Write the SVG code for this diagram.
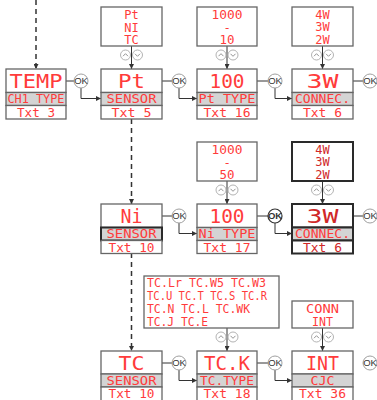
<svg xmlns="http://www.w3.org/2000/svg" width="377" height="400" viewBox="0 0 377 400">
<style>
.bg{fill:#fff}
.box{fill:#fff;stroke:#666;stroke-width:1.3}
.boxb{fill:#fff;stroke:#2a2a2a;stroke-width:2}
.gray{fill:#d4d4d4;stroke:#666;stroke-width:1.3}
.grayb{fill:#d4d4d4;stroke:#2a2a2a;stroke-width:2}
.t{font-family:"DejaVu Sans Mono","Liberation Mono",monospace;fill:#ff3b3b;text-anchor:middle}
.dk{fill:#d02828}
.big{font-size:20px}
.mid{font-size:12.5px}
.sm{font-size:12.5px}
.opt{font-size:12px}
.lst{font-family:"DejaVu Sans Mono","Liberation Mono",monospace;fill:#ff3b3b;font-size:11.5px}
.okc{fill:#fff;stroke:#a0a0a0;stroke-width:1}
.okcb{fill:#fff;stroke:#333;stroke-width:1.2}
.okt{font-family:"Liberation Sans",Arial,sans-serif;font-size:9.5px;fill:#333;text-anchor:middle}
.udc{fill:#fff;stroke:#aaa;stroke-width:0.9}
.chev{fill:none;stroke:#888;stroke-width:0.9}
.ln{fill:none;stroke:#333;stroke-width:1}
.dash{fill:none;stroke:#333;stroke-width:1.5;stroke-dasharray:5 4}
</style>
<defs>
<marker id="ah" viewBox="0 0 6 6" refX="6" refY="3" markerWidth="5" markerHeight="5" markerUnits="userSpaceOnUse" orient="auto">
<path d="M0,0 L6,3 L0,6 z" fill="#333"/>
</marker>
<g id="ud">
<circle cx="-6" cy="0" r="5" class="udc"/>
<circle cx="6" cy="0" r="5" class="udc"/>
<path d="M-8.5,1.2 L-6,-1.3 L-3.5,1.2" class="chev"/>
<path d="M3.5,-1.2 L6,1.3 L8.5,-1.2" class="chev"/>
</g>
</defs>
<rect width="377" height="400" class="bg"/>

<g id="connectors">
<line x1="36" y1="0" x2="36" y2="69" class="dash" marker-end="url(#ah)"/>
<line x1="131.5" y1="119" x2="131.5" y2="204" class="dash" marker-end="url(#ah)"/>
<line x1="131.5" y1="253" x2="131.5" y2="351" class="dash" marker-end="url(#ah)"/>
<line x1="66" y1="81" x2="74" y2="81" class="ln"/>
<polyline points="81,88 81,98.5 101,98.5" class="ln" marker-end="url(#ah)"/>
<line x1="162" y1="81" x2="172" y2="81" class="ln"/>
<polyline points="179,88 179,98.5 197,98.5" class="ln" marker-end="url(#ah)"/>
<line x1="257" y1="81" x2="268" y2="81" class="ln"/>
<polyline points="275,88 275,98.5 292,98.5" class="ln" marker-end="url(#ah)"/>
<line x1="353" y1="81" x2="363" y2="81" class="ln"/>
<line x1="131.5" y1="46" x2="131.5" y2="69" class="ln" marker-end="url(#ah)"/>
<line x1="227" y1="46" x2="227" y2="69" class="ln" marker-end="url(#ah)"/>
<line x1="322.5" y1="46" x2="322.5" y2="69" class="ln" marker-end="url(#ah)"/>
<line x1="162" y1="216" x2="172" y2="216" class="ln"/>
<polyline points="179,223 179,233.5 197,233.5" class="ln" marker-end="url(#ah)"/>
<line x1="257" y1="216" x2="268" y2="216" class="ln"/>
<polyline points="275,223 275,233.5 292,233.5" class="ln" marker-end="url(#ah)"/>
<line x1="353" y1="216" x2="363" y2="216" class="ln"/>
<line x1="227" y1="181" x2="227" y2="204" class="ln" marker-end="url(#ah)"/>
<line x1="322.5" y1="181" x2="322.5" y2="204" class="ln" marker-end="url(#ah)"/>
<line x1="162" y1="363" x2="172" y2="363" class="ln"/>
<polyline points="179,370 179,380.5 197,380.5" class="ln" marker-end="url(#ah)"/>
<line x1="257" y1="363" x2="268" y2="363" class="ln"/>
<polyline points="275,370 275,380.5 292,380.5" class="ln" marker-end="url(#ah)"/>
<line x1="227" y1="328" x2="227" y2="351" class="ln" marker-end="url(#ah)"/>
<line x1="322.5" y1="328" x2="322.5" y2="351" class="ln" marker-end="url(#ah)"/>
<use href="#ud" x="131.5" y="55"/>
<use href="#ud" x="227" y="55"/>
<use href="#ud" x="322.5" y="55"/>
<use href="#ud" x="227" y="190"/>
<use href="#ud" x="322.5" y="190"/>
<use href="#ud" x="227" y="337"/>
<use href="#ud" x="322.5" y="337"/>
<circle cx="81" cy="81" r="7" class="okc"/><text x="81" y="84.4" class="okt">OK</text>
<circle cx="179" cy="81" r="7" class="okc"/><text x="179" y="84.4" class="okt">OK</text>
<circle cx="275" cy="81" r="7" class="okc"/><text x="275" y="84.4" class="okt">OK</text>
<circle cx="370" cy="81" r="7" class="okc"/><text x="370" y="84.4" class="okt">OK</text>
<circle cx="179" cy="216" r="7" class="okc"/><text x="179" y="219.4" class="okt">OK</text>
<circle cx="275" cy="216" r="7" class="okcb"/><text x="275" y="219.4" class="okt" font-weight="bold">OK</text>
<circle cx="370" cy="216" r="7" class="okc"/><text x="370" y="219.4" class="okt">OK</text>
<circle cx="179" cy="363" r="7" class="okc"/><text x="179" y="366.4" class="okt">OK</text>
<circle cx="275" cy="363" r="7" class="okc"/><text x="275" y="366.4" class="okt">OK</text>
<circle cx="370" cy="363" r="7" class="okc"/><text x="370" y="366.4" class="okt">OK</text>
</g>

<g id="temp">
<rect x="6" y="69" width="60" height="23.5" class="box"/>
<rect x="6" y="92.5" width="60" height="13" class="gray"/>
<rect x="6" y="105.5" width="60" height="13.5" class="box"/>
<text x="36" y="88" class="t big" textLength="53" lengthAdjust="spacingAndGlyphs">TEMP</text>
<text x="36" y="103.3" class="t mid" textLength="57" lengthAdjust="spacingAndGlyphs">CH1 TYPE</text>
<text x="36" y="117.4" class="t sm" textLength="38" lengthAdjust="spacingAndGlyphs">Txt 3</text>
</g>
<g id="pt-options">
<rect x="101" y="7" width="61" height="39" class="box"/>
<text x="131.5" y="19.3" class="t opt">Pt</text>
<text x="131.5" y="31.8" class="t opt">NI</text>
<text x="131.5" y="44.3" class="t opt">TC</text>
</g>
<g id="pt">
<rect x="101" y="69" width="61" height="23.5" class="box"/>
<rect x="101" y="92.5" width="61" height="13" class="gray"/>
<rect x="101" y="105.5" width="61" height="13.5" class="box"/>
<text x="131.5" y="88" class="t big" textLength="27" lengthAdjust="spacingAndGlyphs">Pt</text>
<text x="131.5" y="103.3" class="t mid" textLength="50" lengthAdjust="spacingAndGlyphs">SENSOR</text>
<text x="131.5" y="117.4" class="t sm" textLength="40" lengthAdjust="spacingAndGlyphs">Txt 5</text>
</g>
<g id="pt-type-options">
<rect x="197" y="7" width="60" height="39" class="box"/>
<text x="227" y="19" class="t opt" textLength="31" lengthAdjust="spacingAndGlyphs">1000</text>
<text x="227" y="31.5" class="t opt">-</text>
<text x="227" y="44" class="t opt" textLength="15" lengthAdjust="spacingAndGlyphs">10</text>
</g>
<g id="pt-type">
<rect x="197" y="69" width="60" height="23.5" class="box"/>
<rect x="197" y="92.5" width="60" height="13" class="gray"/>
<rect x="197" y="105.5" width="60" height="13.5" class="box"/>
<text x="227" y="88" class="t big" textLength="35" lengthAdjust="spacingAndGlyphs">100</text>
<text x="227" y="103.3" class="t mid" textLength="57" lengthAdjust="spacingAndGlyphs">Pt TYPE</text>
<text x="227" y="117.4" class="t sm" textLength="47" lengthAdjust="spacingAndGlyphs">Txt 16</text>
</g>
<g id="connec-options-a">
<rect x="292" y="7" width="61" height="39" class="box"/>
<text x="322.5" y="18.5" class="t opt">4W</text>
<text x="322.5" y="31" class="t opt">3W</text>
<text x="322.5" y="43.5" class="t opt">2W</text>
</g>
<g id="connec-a">
<rect x="292" y="69" width="61" height="23.5" class="box"/>
<rect x="292" y="92.5" width="61" height="13" class="gray"/>
<rect x="292" y="105.5" width="61" height="13.5" class="box"/>
<text x="322.5" y="88" class="t big" textLength="32" lengthAdjust="spacingAndGlyphs">3W</text>
<text x="322.5" y="103.3" class="t mid" textLength="55" lengthAdjust="spacingAndGlyphs">CONNEC.</text>
<text x="322.5" y="117.4" class="t sm" textLength="39" lengthAdjust="spacingAndGlyphs">Txt 6</text>
</g>

<g id="ni">
<rect x="101" y="204" width="61" height="23.5" class="box"/>
<rect x="101" y="227.5" width="61" height="13" class="grayb"/>
<rect x="101" y="240.5" width="61" height="13" class="box"/>
<text x="131.5" y="223" class="t big" textLength="22" lengthAdjust="spacingAndGlyphs">Ni</text>
<text x="131.5" y="238.3" class="t mid" textLength="50" lengthAdjust="spacingAndGlyphs">SENSOR</text>
<text x="131.5" y="252.2" class="t sm" textLength="46" lengthAdjust="spacingAndGlyphs">Txt 10</text>
</g>
<g id="ni-type-options">
<rect x="197" y="142" width="60" height="39" class="box"/>
<text x="227" y="154" class="t opt" textLength="31" lengthAdjust="spacingAndGlyphs">1000</text>
<text x="227" y="166.5" class="t opt">-</text>
<text x="227" y="179" class="t opt" textLength="15" lengthAdjust="spacingAndGlyphs">50</text>
</g>
<g id="ni-type">
<rect x="197" y="204" width="60" height="23.5" class="box"/>
<rect x="197" y="227.5" width="60" height="13" class="gray"/>
<rect x="197" y="240.5" width="60" height="13" class="box"/>
<text x="227" y="223" class="t big" textLength="35" lengthAdjust="spacingAndGlyphs">100</text>
<text x="227" y="238.3" class="t mid" textLength="57" lengthAdjust="spacingAndGlyphs">Ni TYPE</text>
<text x="227" y="252.2" class="t sm" textLength="47" lengthAdjust="spacingAndGlyphs">Txt 17</text>
</g>
<g id="connec-options-b">
<rect x="292" y="142" width="61" height="39" class="boxb"/>
<text x="322.5" y="153.5" class="t opt dk">4W</text>
<text x="322.5" y="166" class="t opt dk">3W</text>
<text x="322.5" y="178.5" class="t opt dk">2W</text>
</g>
<g id="connec-b">
<rect x="292" y="204" width="61" height="23.5" class="boxb"/>
<rect x="292" y="227.5" width="61" height="13" class="grayb"/>
<rect x="292" y="240.5" width="61" height="13" class="boxb"/>
<text x="322.5" y="223" class="t big dk" textLength="32" lengthAdjust="spacingAndGlyphs">3W</text>
<text x="322.5" y="238.3" class="t mid" textLength="55" lengthAdjust="spacingAndGlyphs">CONNEC.</text>
<text x="322.5" y="252.2" class="t sm dk" textLength="39" lengthAdjust="spacingAndGlyphs">Txt 6</text>
</g>

<g id="tc-type-options">
<rect x="144" y="276" width="135" height="52" class="box"/>
<text x="147" y="286.6" class="lst" textLength="119" lengthAdjust="spacingAndGlyphs">TC.Lr TC.W5 TC.W3</text>
<text x="147" y="299.5" class="lst" textLength="120" lengthAdjust="spacingAndGlyphs">TC.U TC.T TC.S TC.R</text>
<text x="147" y="312.8" class="lst" textLength="103" lengthAdjust="spacingAndGlyphs">TC.N TC.L TC.WK</text>
<text x="147" y="325.8" class="lst" textLength="61" lengthAdjust="spacingAndGlyphs">TC.J TC.E</text>
</g>
<g id="tc">
<rect x="101" y="351" width="61" height="23" class="box"/>
<rect x="101" y="374" width="61" height="13" class="gray"/>
<rect x="101" y="387" width="61" height="14" class="box"/>
<text x="131.5" y="370" class="t big" textLength="26" lengthAdjust="spacingAndGlyphs">TC</text>
<text x="131.5" y="384.5" class="t mid" textLength="50" lengthAdjust="spacingAndGlyphs">SENSOR</text>
<text x="131.5" y="397.5" class="t sm" textLength="46" lengthAdjust="spacingAndGlyphs">Txt 10</text>
</g>
<g id="tc-type">
<rect x="197" y="351" width="60" height="23" class="box"/>
<rect x="197" y="374" width="60" height="13" class="gray"/>
<rect x="197" y="387" width="60" height="14" class="box"/>
<text x="227" y="370" class="t big" textLength="46" lengthAdjust="spacingAndGlyphs">TC.K</text>
<text x="227" y="384.5" class="t mid" textLength="54" lengthAdjust="spacingAndGlyphs">TC.TYPE</text>
<text x="227" y="397.5" class="t sm" textLength="47" lengthAdjust="spacingAndGlyphs">Txt 18</text>
</g>
<g id="cjc-options">
<rect x="292" y="301" width="61" height="27" class="box"/>
<text x="322.5" y="313.3" class="t opt" textLength="33" lengthAdjust="spacingAndGlyphs">CONN</text>
<text x="322.5" y="325.7" class="t opt" textLength="21" lengthAdjust="spacingAndGlyphs">INT</text>
</g>
<g id="cjc">
<rect x="292" y="351" width="61" height="23" class="box"/>
<rect x="292" y="374" width="61" height="13" class="gray"/>
<rect x="292" y="387" width="61" height="14" class="box"/>
<text x="322.5" y="370" class="t big" textLength="33" lengthAdjust="spacingAndGlyphs">INT</text>
<text x="322.5" y="384.5" class="t mid" textLength="24" lengthAdjust="spacingAndGlyphs">CJC</text>
<text x="322.5" y="397.5" class="t sm" textLength="47" lengthAdjust="spacingAndGlyphs">Txt 36</text>
</g>
</svg>
